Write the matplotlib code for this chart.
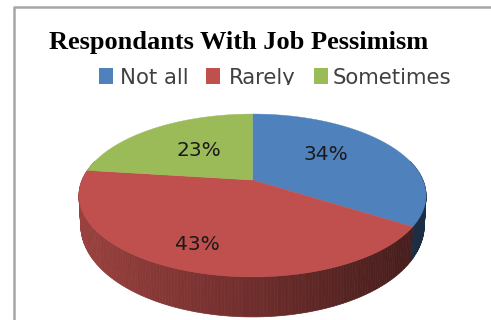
import numpy as np
import matplotlib
matplotlib.use('Agg')
import matplotlib.pyplot as plt
from matplotlib.patches import Polygon, Rectangle

categories = ['Not all', 'Rarely', 'Sometimes']
shares = [34, 43, 23]
top_colors = ['#4f81bd', '#c0504d', '#9bbb59']
title = 'Respondants With Job Pessimism'

# pie geometry in pixels, with a simple perspective tilt
cx, cy = 252.5, 180.0
R, a, c = 170.4, 44.3, 0.19


def project(theta):
    u, v = np.sin(theta), np.cos(theta)
    w = 1 + c * v
    return cx + R * u / w, (cy - a * v) / w


def project_lower(theta):
    # lower rim: the wall looks shorter towards the sides
    x, y = project(theta)
    return cx + (x - cx) * 0.99, y + 40 - 13 * (1 + np.cos(theta))


fig = plt.figure(figsize=(4.91, 3.20), dpi=100)
ax = fig.add_axes([0, 0, 1, 1])
ax.set_xlim(0, 491)
ax.set_ylim(320, 0)
ax.axis('off')

# chart border
ax.plot([14.5, 14.5, 491], [320, 6.5, 6.5], color='#a6a6a6', lw=1.8)

edges = np.cumsum([0] + shares) / sum(shares) * 2 * np.pi

# side wall, shaded in bands getting darker towards the right
for i, col in enumerate(top_colors):
    base = np.array(matplotlib.colors.to_rgb(col))
    th = np.linspace(edges[i], edges[i + 1], 160)
    for t0, t1 in zip(th[:-1], th[1:]):
        if np.cos((t0 + t1) / 2) > 0.25:
            continue
        x0, y0 = project(t0)
        x1, y1 = project(t1)
        x2, y2 = project_lower(t1)
        x3, y3 = project_lower(t0)
        f = np.clip(((x0 + x1) / 2 - 80) / 335, 0, 1)
        f = np.round(f * 26) / 26
        shade = base * (0.80 - 0.44 * f)
        ax.add_patch(Polygon([(x0, y0), (x1, y1), (x2, y2), (x3, y3)],
                             closed=True, fc=shade, ec=shade, lw=0.5))

# top face
for i, col in enumerate(top_colors):
    th = np.linspace(edges[i], edges[i + 1], 200)
    xs, ys = project(th)
    pts = np.column_stack([np.r_[cx, xs], np.r_[cy, ys]])
    ax.add_patch(Polygon(pts, closed=True, fc=col, ec=col, lw=0.3))

# slice labels
label_pos = [(325.5, 155), (197, 245), (199, 151)]
for pos, s in zip(label_pos, shares):
    ax.text(pos[0], pos[1], '%d%%' % s, fontsize=14.5, family='DejaVu Sans',
            color='#1a1a1a', ha='center', va='center')

ax.text(49, 42, title, fontsize=19, family='Liberation Serif', weight='bold',
        color='black', ha='left', va='center')

# legend row, clipped at its bottom edge
swatch_x = [99, 206, 314]
text_x = [120, 229, 333]
clip = Rectangle((0, 60), 491, 24.5, transform=ax.transData)
for sx, tx, col, name in zip(swatch_x, text_x, top_colors, categories):
    ax.add_patch(Rectangle((sx, 68), 14, 16, fc=col, ec='none'))
    t = ax.text(tx, 83.5, name, fontsize=15.3, family='DejaVu Sans', color='#404040',
                ha='left', va='baseline')
    t.set_clip_path(clip)
    t.set_clip_on(True)

fig.savefig('out.png', dpi=100)
